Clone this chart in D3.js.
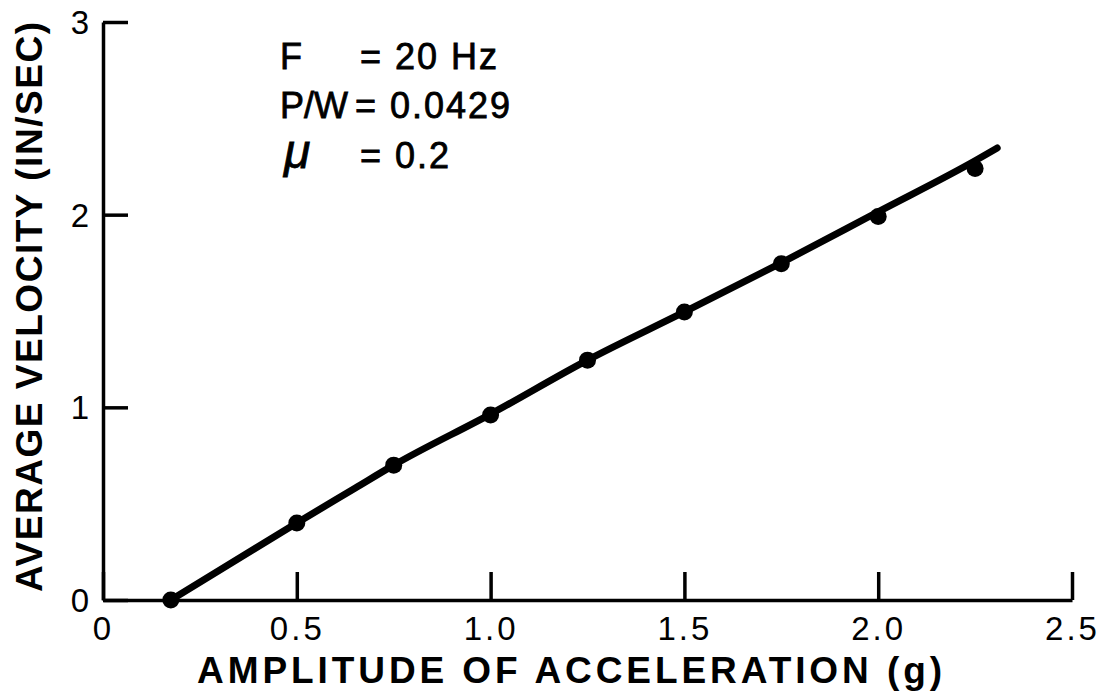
<!DOCTYPE html>
<html>
<head>
<meta charset="utf-8">
<script src="https://cdn.jsdelivr.net/npm/d3@7"></script>
<style>
  html, body { margin: 0; padding: 0; background: #fff; }
  svg { display: block; }
  text { font-family: "Liberation Sans", Arial, sans-serif; fill: #000; }
</style>
</head>
<body>
<svg id="chart" width="1103" height="695"></svg>
<script>
// Measured points: acceleration amplitude (g) vs average velocity (in/sec)
const accel = [0.175, 0.5, 0.75, 1.0, 1.25, 1.5, 1.75, 2.0, 2.25];
const velocity = [0.0, 0.40, 0.70, 0.96, 1.245, 1.495, 1.745, 1.99, 2.24];

// Hand-drawn trend curve through the data
const curveX = [0.175, 0.5, 0.65, 0.75, 1.0, 1.25, 1.5, 1.75, 2.0, 2.25, 2.307];
const curveY = [0.0, 0.40, 0.58, 0.70, 0.965, 1.245, 1.495, 1.75, 2.015, 2.28, 2.346];

const xTicks = [0, 0.5, 1.0, 1.5, 2.0, 2.5];
const xTickLabels = ["0", "0.5", "1.0", "1.5", "2.0", "2.5"];
const yTicks = [0, 1, 2, 3];
const yTickLabels = ["0", "1", "2", "3"];

const svg = d3.select("#chart");

const x = d3.scaleLinear().domain([0, 2.5]).range([103, 1072]);
const y = d3.scaleLinear().domain([0, 3]).range([600, 22]);

// Axes with ticks pointing into the plot
const xAxis = d3.axisBottom(x)
  .tickValues(xTicks)
  .tickFormat((d, i) => xTickLabels[i])
  .tickSizeInner(-28)
  .tickSizeOuter(0)
  .tickPadding(17);

const yAxis = d3.axisLeft(y)
  .tickValues(yTicks)
  .tickFormat((d, i) => yTickLabels[i])
  .tickSizeInner(-25)
  .tickSizeOuter(0)
  .tickPadding(14);

const gx = svg.append("g").attr("transform", `translate(0,${y(0)})`).call(xAxis);
const gy = svg.append("g").attr("transform", `translate(${x(0)},0)`).call(yAxis);

[gx, gy].forEach(g => {
  g.select(".domain").attr("stroke", "#000").attr("stroke-width", 3.5);
  g.selectAll(".tick line").attr("stroke", "#000").attr("stroke-width", 3.5);
  g.selectAll(".tick text")
    .attr("font-family", "Liberation Sans, Arial, sans-serif")
    .attr("font-size", 33)
    .attr("fill", "#000");
});
gx.selectAll(".tick text").attr("dy", "0.71em").attr("letter-spacing", 3);
gy.selectAll(".tick text").attr("dy", "0.35em");

// Trend line
const line = d3.line()
  .x(d => x(d[0]))
  .y(d => y(d[1]))
  .curve(d3.curveMonotoneX);

svg.append("path")
  .datum(curveX.map((v, i) => [v, curveY[i]]))
  .attr("d", line)
  .attr("fill", "none")
  .attr("stroke", "#000")
  .attr("stroke-width", 7)
  .attr("stroke-linecap", "round");

// Data points
svg.append("g")
  .selectAll("circle")
  .data(accel.map((v, i) => [v, velocity[i]]))
  .join("circle")
  .attr("cx", d => x(d[0]))
  .attr("cy", d => y(d[1]))
  .attr("r", 8.5)
  .attr("fill", "#000");

// Axis titles
svg.append("text")
  .attr("x", 197)
  .attr("y", 683)
  .attr("font-size", 37)
  .attr("font-weight", "bold")
  .attr("textLength", 745)
  .attr("lengthAdjust", "spacing")
  .text("AMPLITUDE OF ACCELERATION (g)");

svg.append("text")
  .attr("transform", "translate(42,592) rotate(-90)")
  .attr("font-size", 37)
  .attr("font-weight", "bold")
  .attr("textLength", 570)
  .attr("lengthAdjust", "spacing")
  .text("AVERAGE VELOCITY (IN/SEC)");

// Test conditions
const params = [
  { name: "F", value: "= 20 Hz", y: 69, vx: 360 },
  { name: "P/W", value: "= 0.0429", y: 118, vx: 355 },
  { name: "μ", value: "= 0.2", y: 168, vx: 360 }
];

const pg = svg.append("g");
pg.selectAll("text.pname")
  .data(params)
  .join("text")
  .attr("class", "pname")
  .attr("x", d => d.name === "μ" ? 284 : 280)
  .attr("y", d => d.y)
  .attr("font-size", d => d.name === "μ" ? 48 : 36)
  .attr("font-style", d => d.name === "μ" ? "italic" : "normal")
  .attr("stroke", "#000")
  .attr("stroke-width", 0.8)
  .text(d => d.name);

pg.selectAll("text.pval")
  .data(params)
  .join("text")
  .attr("class", "pval")
  .attr("x", d => d.vx)
  .attr("y", d => d.y)
  .attr("font-size", 36)
  .attr("letter-spacing", 2)
  .attr("stroke", "#000")
  .attr("stroke-width", 0.8)
  .text(d => d.value);
</script>
</body>
</html>
